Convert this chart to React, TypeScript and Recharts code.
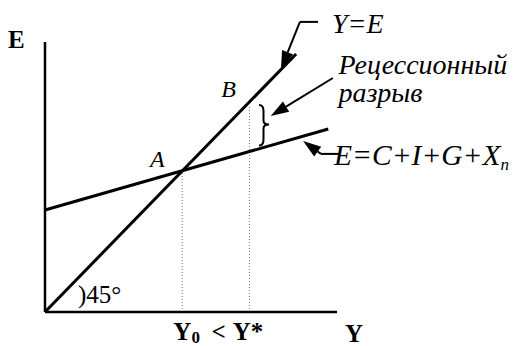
import { ComposedChart, Line, XAxis, YAxis, ReferenceLine, ReferenceArea, ReferenceDot } from 'recharts'

const W = 514
const H = 346

// income Y on x, expenditure E on y
const line45Y = [0, 86]
const line45E = [0, 86]
const aeY = [0, 97]
const aeE = [34, 61]

const Y0 = 47
const Ystar = 70
const gapTop = 69
const gapBottom = 55.5

const axisXEnd = 100
const axisYEnd = 90

// annotation arrows: [tailY, tailE, tipY, tipE]
const arrowYE = [87.3, 96.7, 80.8, 81]
const elbowYE = [93.5, 96.7, 87.3, 96.7]
const arrowGap = [98.6, 78, 77.3, 65.3]
const arrowAE = [94.5, 52.7, 88.4, 57]
const elbowAE = [101, 52.7, 94.5, 52.7]

const line45 = line45Y.map((y, i) => ({ y, e: line45E[i] }))
const aeLine = aeY.map((y, i) => ({ y, e: aeE[i] }))

const serif = '"Liberation Serif", "Times New Roman", serif'

const arrowShape = (p: any) => {
  const { x1, y1, x2, y2 } = p
  const a = Math.atan2(y2 - y1, x2 - x1)
  const L = 18
  const w = 6
  const bx = x2 - L * Math.cos(a)
  const by = y2 - L * Math.sin(a)
  const pts = `${x2},${y2} ${bx + w * Math.sin(a)},${by - w * Math.cos(a)} ${bx - w * Math.sin(a)},${by + w * Math.cos(a)}`
  return (
    <g>
      <line x1={x1} y1={y1} x2={bx} y2={by} stroke="#000" strokeWidth={2} />
      <polygon points={pts} fill="#000" />
    </g>
  )
}

const brace = (p: any) => {
  const { x, y, width: w, height: h } = p
  const m = y + h * 0.48
  const xm = x + w * 0.45
  const xr = x + w
  const d = `M${x},${y} Q${xm},${y} ${xm},${y + h * 0.15} L${xm},${m - h * 0.1} Q${xm},${m} ${xr},${m} Q${xm},${m} ${xm},${m + h * 0.1} L${xm},${y + h - h * 0.15} Q${xm},${y + h} ${x},${y + h}`
  return <path d={d} fill="none" stroke="#000" strokeWidth={2} />
}

const label = (content: any, size: number, opts: { italic?: boolean; bold?: boolean; anchor?: string } = {}) => (p: any) => (
  <text
    x={p.cx}
    y={p.cy}
    fontFamily={serif}
    fontSize={size}
    fontStyle={opts.italic ? 'italic' : 'normal'}
    fontWeight={opts.bold ? 'bold' : 'normal'}
    textAnchor={opts.anchor || 'start'}
    fill="#000"
  >
    {content}
  </text>
)

export default function App() {
  return (
    <div style={{ position: 'absolute', left: 0, top: 0, background: '#fff' }}>
      <ComposedChart width={W} height={H} margin={{ top: 0, right: 0, bottom: 0, left: 0 }}>
        <XAxis dataKey="y" type="number" domain={[-15.41, 160.62]} allowDataOverflow hide />
        <YAxis dataKey="e" type="number" domain={[-11.33, 104]} allowDataOverflow hide />

        <ReferenceLine segment={[{ x: Y0, y: 0 }, { x: Y0, y: Y0 }]} stroke="#777" strokeWidth={1} strokeDasharray="1 2" />
        <ReferenceLine segment={[{ x: Ystar, y: 0 }, { x: Ystar, y: Ystar - 1.5 }]} stroke="#777" strokeWidth={1} strokeDasharray="1 2" />

        <ReferenceLine segment={[{ x: 0, y: 0 }, { x: 0, y: axisYEnd }]} stroke="#000" strokeWidth={2.5} />
        <ReferenceLine segment={[{ x: 0, y: 0 }, { x: axisXEnd, y: 0 }]} stroke="#000" strokeWidth={2.5} />

        <Line data={line45} dataKey="e" stroke="#000" strokeWidth={3} dot={false} activeDot={false} legendType="none" isAnimationActive={false} />
        <Line data={aeLine} dataKey="e" stroke="#000" strokeWidth={3} dot={false} activeDot={false} legendType="none" isAnimationActive={false} />

        <ReferenceArea x1={Ystar + 3.3} x2={Ystar + 6.7} y1={gapBottom} y2={gapTop} shape={brace} />

        <ReferenceLine segment={[{ x: elbowYE[0], y: elbowYE[1] }, { x: elbowYE[2], y: elbowYE[3] }]} stroke="#000" strokeWidth={2} />
        <ReferenceLine segment={[{ x: arrowYE[0], y: arrowYE[1] }, { x: arrowYE[2], y: arrowYE[3] }]} shape={arrowShape} />
        <ReferenceLine segment={[{ x: arrowGap[0], y: arrowGap[1] }, { x: arrowGap[2], y: arrowGap[3] }]} shape={arrowShape} />
        <ReferenceLine segment={[{ x: elbowAE[0], y: elbowAE[1] }, { x: elbowAE[2], y: elbowAE[3] }]} stroke="#000" strokeWidth={2} />
        <ReferenceLine segment={[{ x: arrowAE[0], y: arrowAE[1] }, { x: arrowAE[2], y: arrowAE[3] }]} shape={arrowShape} />

        <ReferenceDot x={-12.7} y={88} r={0} shape={label('E', 25, { bold: true })} />
        <ReferenceDot x={36} y={48.3} r={0} shape={label('A', 24, { italic: true })} />
        <ReferenceDot x={60.4} y={71.7} r={0} shape={label('B', 24, { italic: true })} />
        <ReferenceDot x={98.3} y={93} r={0} shape={label('Y=E', 28, { italic: true })} />
        <ReferenceDot x={100.5} y={79.3} r={0} shape={label('Рецессионный', 28, { italic: true })} />
        <ReferenceDot x={100.5} y={70} r={0} shape={label('разрыв', 28, { italic: true })} />
        <ReferenceDot
          x={99}
          y={49}
          r={0}
          shape={label(
            <>
              E=C+I+G+X<tspan fontSize={17} dy={5}>n</tspan>
            </>,
            29.5,
            { italic: true }
          )}
        />
        <ReferenceDot x={11.3} y={3} r={0} shape={label(')45°', 25)} />
        <ReferenceDot
          x={Y0 + 1.5}
          y={-9.4}
          r={0}
          shape={label(
            <>
              Y<tspan fontSize={17} dy={3}>0</tspan>
            </>,
            25,
            { bold: true, anchor: 'middle' }
          )}
        />
        <ReferenceDot x={(Y0 + Ystar) / 2 + 1} y={-9.4} r={0} shape={label('<', 25, { bold: true, anchor: 'middle' })} />
        <ReferenceDot x={Ystar - 0.5} y={-9.4} r={0} shape={label('Y*', 25, { bold: true, anchor: 'middle' })} />
        <ReferenceDot x={102.7} y={-10} r={0} shape={label('Y', 25, { bold: true })} />
      </ComposedChart>
    </div>
  )
}
